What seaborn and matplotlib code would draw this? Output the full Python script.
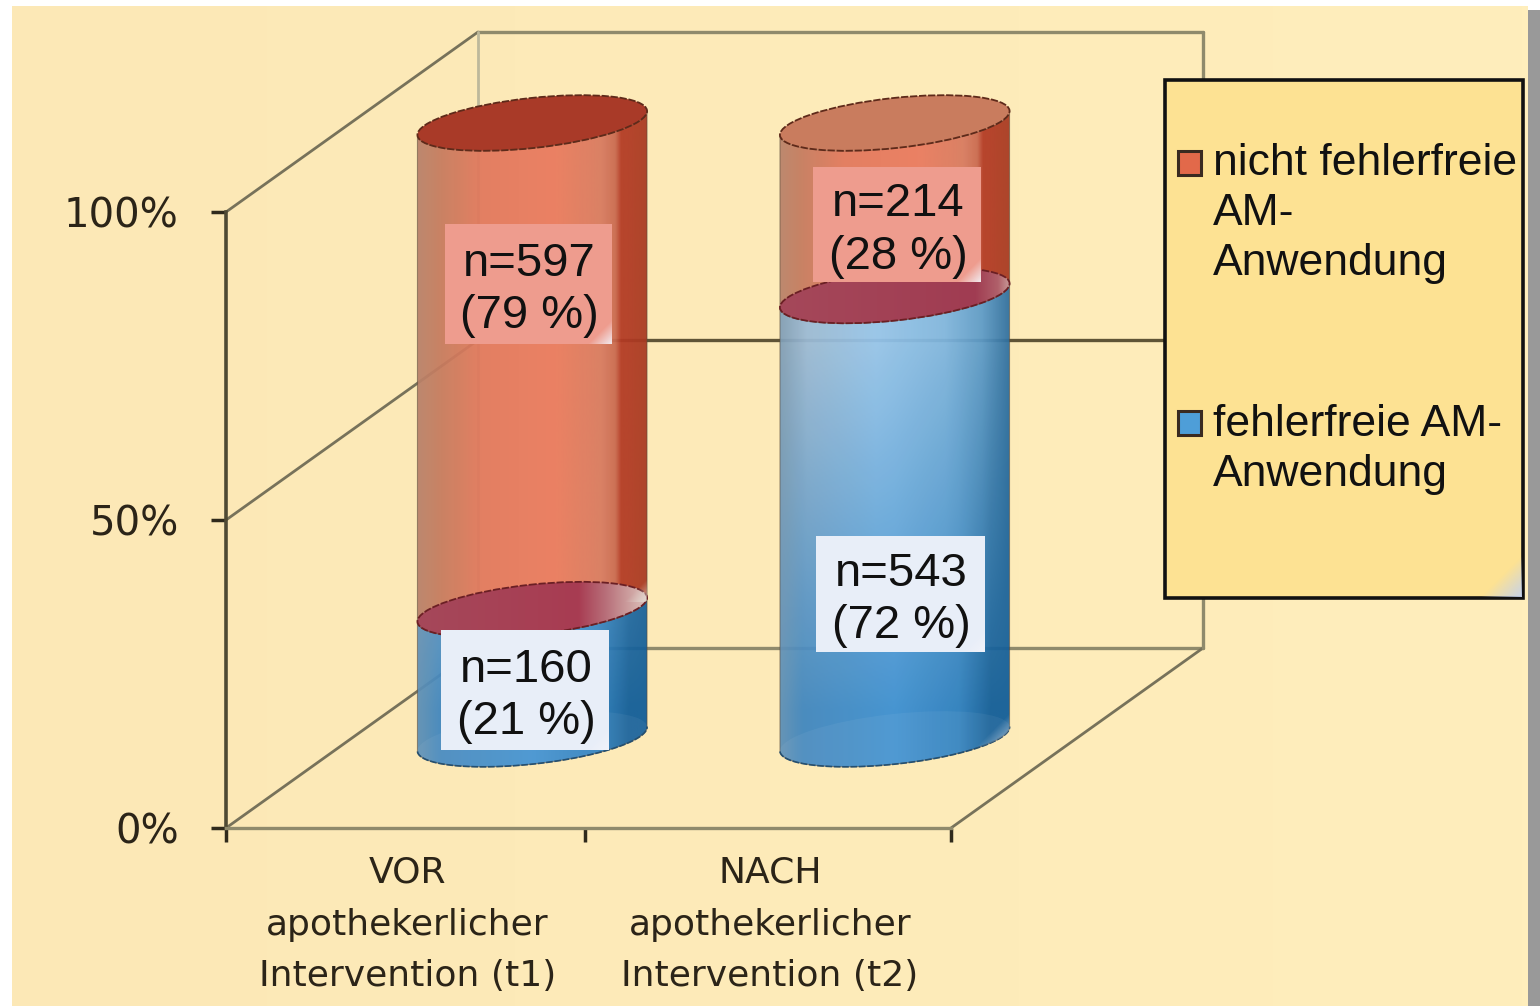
import numpy as np
import pandas as pd
import seaborn as sns
import matplotlib.pyplot as plt
from matplotlib.colors import LinearSegmentedColormap, to_rgb
from matplotlib.patches import Ellipse, PathPatch, Rectangle
from matplotlib.path import Path

# chart data
zeitpunkte = ["VOR\napothekerlicher\nIntervention (t1)", "NACH\napothekerlicher\nIntervention (t2)"]
n_fehlerfrei = [160, 543]
n_nicht_fehlerfrei = [597, 214]
pct_fehlerfrei = [21, 72]
pct_nicht_fehlerfrei = [79, 28]
y_ticks = [0, 50, 100]
legend_labels = ["nicht fehlerfreie\nAM-\nAnwendung", "fehlerfreie AM-\nAnwendung"]

W, H = 1540, 1006
# 3D look: pixel shift of the cylinders and of the back wall
CYL_SHIFT = (125, 89)
WALL_SHIFT = (252, 180)
PLOT_BOX = (226, 951, 828, 212)
ELL_B = 25
TILT = 6.2
FRAME_C = "#8f8a6c"
SANS = "Liberation Sans"

sns.set_theme(style="white")
plt.rcParams["font.family"] = ["DejaVu Sans"]

df = pd.DataFrame({
    "zeitpunkt": zeitpunkte,
    "fehlerfrei": pct_fehlerfrei,
    "nicht": pct_nicht_fehlerfrei,
})

fig = plt.figure(figsize=(W / 100, H / 100), dpi=100, facecolor="white")


def box_axes(dx=0, dy=0, zorder=1):
    l, r, b, t = PLOT_BOX
    a = fig.add_axes([(l + dx) / W, (H - b + dy) / H, (r - l) / W, (b - t) / H], zorder=zorder)
    a.patch.set_alpha(0)
    a.set_xlim(-0.5, 1.5)
    a.set_ylim(0, 100)
    return a


def pixel_axes(zorder):
    a = fig.add_axes([0, 0, 1, 1], zorder=zorder)
    a.set_xlim(0, W)
    a.set_ylim(H, 0)
    a.set_autoscale_on(False)
    a.axis("off")
    a.patch.set_alpha(0)
    return a


def grad(stops, n=256):
    return LinearSegmentedColormap.from_list("g", stops)(np.linspace(0, 1, n))[:, :3]


def ell_pts(cx, cy, a, t):
    th = np.radians(TILT)
    x, y = a * np.cos(t), ELL_B * np.sin(t)
    return np.c_[cx + x * np.cos(th) + y * np.sin(th), cy - x * np.sin(th) + y * np.cos(th)]


def corner_glow(ax, right, bottom, size, color, clip=None, strength=0.85, zorder=6):
    gx, gy = np.meshgrid(np.linspace(0, 1, 80), np.linspace(0, 1, 80))
    rgba = np.zeros((80, 80, 4))
    rgba[..., :3] = to_rgb(color)
    rgba[..., 3] = np.clip((gx + gy - 1.25) / 0.75, 0, 1) * strength
    im = ax.imshow(rgba, extent=(right - size, right, bottom, bottom - size), aspect="auto", zorder=zorder)
    if clip is not None:
        im.set_clip_path(clip)


# page background
bg = pixel_axes(0)
bg_grad = np.linspace(0, 1, 256)[None, :, None] * (np.array(to_rgb("#FFEEBC")) - np.array(to_rgb("#FCE8B6"))) + np.array(to_rgb("#FCE8B6"))
bg.imshow(bg_grad, extent=(12, 1528, H, 6), aspect="auto", zorder=0)
bg.add_patch(Rectangle((1528, 10), 12, H, fc="#999999", ec="none", zorder=1))

# wall and floor of the 3D frame
front = box_axes(zorder=1)
y_to_px = lambda v: 828 - v * 6.16
wdx, wdy = WALL_SHIFT
for tick in y_ticks:
    px, py = 226, y_to_px(tick)
    col = "#5f5436" if tick == 50 else FRAME_C
    bg.plot([px, px + wdx], [py, py - wdy], color="#77725a", lw=2, zorder=2)
    bg.plot([px + wdx, 951 + wdx], [py - wdy, py - wdy], color=col, lw=2.4, zorder=2)
bg.plot([951, 951 + wdx], [828, 828 - wdy], color="#77725a", lw=2, zorder=2)
bg.plot([226 + wdx] * 2, [212 - wdy, 828 - wdy], color="#bdb89b", lw=2, zorder=2)
bg.plot([951 + wdx] * 2, [212 - wdy, 828 - wdy], color=FRAME_C, lw=2.4, zorder=2)

front.set_yticks(y_ticks)
front.set_yticklabels([f"{t}%" for t in y_ticks], fontsize=29, color="#2b2418")
front.set_xticks([0.0, 1])
front.set_xticklabels(zeitpunkte, fontsize=26, color="#2b2418", linespacing=1.66)
front.set_xticks([-0.5, 0.49, 1.5], minor=True)
front.tick_params(axis="x", which="major", length=0, pad=20)
front.tick_params(axis="x", which="minor", length=10, width=2.5, color="#2f2a1c", bottom=True)
front.tick_params(axis="y", length=11, width=2.5, color="#2f2a1c", left=True, pad=23)
sns.despine(ax=front)
front.spines["left"].set(color="#4f4a34", linewidth=2.6)
front.spines["bottom"].set(color=FRAME_C, linewidth=2.4)

# cylinders: stacked seaborn bars on an axes shifted into the depth
cyl = box_axes(CYL_SHIFT[0], CYL_SHIFT[1], zorder=2)
sns.barplot(data=df, x="zeitpunkt", y="fehlerfrei", color="#3B8FD3", width=0.637, ax=cyl)
n_blue = len(cyl.patches)
sns.barplot(data=df, x="zeitpunkt", y="nicht", bottom=df["fehlerfrei"], color="#E87A5C", width=0.637, ax=cyl)
cyl.set_xlim(-0.5, 1.5)
cyl.set_ylim(0, 100)
cyl.axis("off")
fig.canvas.draw()

paint = pixel_axes(3)
red_img = grad([(0, "#B8826A"), (0.1, "#C67B5F"), (0.28, "#E2785C"), (0.6, "#EA7A5E"), (0.8, "#D87A60"),
                (0.86, "#C9694F"), (0.885, "#B43A24"), (1, "#A83A22")])[None, :, :]
blue_top = grad([(0, "#7F9DB5"), (0.12, "#9BBAD5"), (0.42, "#95C5EC"), (0.72, "#7FB6E0"), (0.88, "#5D9BC8"), (1, "#2F6F9F")])
blue_deep = grad([(0, "#5E8FB5"), (0.1, "#3F86BF"), (0.5, "#3B8FD3"), (0.78, "#2A7EC0"), (0.92, "#0F5C98"), (1, "#0F5C98")])
y_img = np.linspace(260, 770, 200)
mix = np.clip((y_img - 340) / 370, 0, 1)[:, None, None]
blue_img = blue_top[None, :, :] * (1 - mix) + blue_deep[None, :, :] * mix

top_caps = ["#A93A28", "#C97C5E"]
cap_imgs = [
    grad([(0, "#A5485A"), (0.7, "#A83C52"), (0.82, "#B8707A"), (1, "#DDC4BC")])[None, :, :],
    grad([(0, "#A5485A"), (0.85, "#A03C52"), (0.95, "#B0606A"), (1, "#C89A98")])[None, :, :],
]


def bar_pixels(bar):
    x0, y0 = cyl.transData.transform((bar.get_x(), bar.get_y()))
    x1, y1 = cyl.transData.transform((bar.get_x() + bar.get_width(), bar.get_y() + bar.get_height()))
    return x0, x1, H - y0, H - y1


def draw_segment(bar, img, extent_y):
    x0, x1, yb, yt = bar_pixels(bar)
    cx, a = (x0 + x1) / 2, (x1 - x0) / 2
    t_down = np.linspace(np.pi, 0, 90)
    pts = np.r_[ell_pts(cx, yb, a, t_down), ell_pts(cx, yt, a, t_down[::-1])]
    body = Path(np.r_[pts, pts[:1]], closed=True)
    patch = PathPatch(body, transform=paint.transData, fc="none", ec="#5a4a3a", lw=0.8, alpha=0.55, zorder=3)
    paint.add_patch(patch)
    im = paint.imshow(img, extent=(x0, x1, extent_y[1], extent_y[0]), aspect="auto", alpha=0.94, zorder=2)
    im.set_clip_path(patch)
    return cx, a, yb, yt, patch


for i, (blue_bar, red_bar) in enumerate(zip(cyl.patches[:n_blue], cyl.patches[n_blue:])):
    for b in (blue_bar, red_bar):
        b.set_alpha(0)
    cx, a, yb, yb_top, blue_patch = draw_segment(blue_bar, blue_img, (260, 770))
    cxr, ar, _, yr_top, red_patch = draw_segment(red_bar, red_img, (90, 700))
    # faint far edge of the base seen through the cylinder
    paint.add_patch(Ellipse((cx, yb), 2 * a, 2 * ELL_B, angle=-TILT, fc="white", ec="none", alpha=0.05, zorder=3))
    # top cap
    paint.add_patch(Ellipse((cxr, yr_top), 2 * ar, 2 * ELL_B, angle=-TILT, fc=top_caps[i], ec="#5e2a1a",
                            lw=1.3, ls=(0, (4, 1)), zorder=4))
    # cap between the two parts
    mid = Ellipse((cx, yb_top), 2 * a, 2 * ELL_B, angle=-TILT, fc="none", ec="#6b1f24", lw=1.3, ls=(0, (4, 1)), zorder=5)
    paint.add_patch(mid)
    im = paint.imshow(cap_imgs[i], extent=(cx - a, cx + a, yb_top + 30, yb_top - 30), aspect="auto", zorder=4)
    im.set_clip_path(mid)
    # bottom edge
    bot = ell_pts(cx, yb, a, np.linspace(np.pi, 0, 90))
    paint.plot(bot[:, 0], bot[:, 1], color="#244f70", lw=1.2, ls=(0, (4, 1)), zorder=5)
    if i == 1:
        corner_glow(paint, cx + a, yb + 10, 48, "#e8eaf0", clip=blue_patch, strength=0.75)
    else:
        corner_glow(paint, cx + a, yb_top - 8, 32, "#e8e4dc", clip=red_patch, strength=0.7)

# value labels in boxes
box_pos = {
    (0, 0): (441, 630, 168, 120), (1, 0): (816, 536, 169, 116),
    (0, 1): (445, 224, 167, 120), (1, 1): (813, 167, 168, 115),
}
for k, (vals, pcts, fc) in enumerate([(n_fehlerfrei, pct_fehlerfrei, "#E8EEF8"),
                                      (n_nicht_fehlerfrei, pct_nicht_fehlerfrei, "#EE9C8E")]):
    for i, (v, p) in enumerate(zip(vals, pcts)):
        bx, by, bw, bh = box_pos[(i, k)]
        paint.add_patch(Rectangle((bx, by), bw, bh, fc=fc, ec="none", zorder=7))
        corner_glow(paint, bx + bw, by + bh, 32, "#f2f4fb", strength=0.9, zorder=7)
        paint.text(bx + bw / 2 + 1, by + bh / 2 + 6, f"n={v}\n({p} %)", family=SANS, fontsize=34, ha="center",
                   va="center", color="#111111", linespacing=1.26, zorder=8)

# legend
paint.add_patch(Rectangle((1165, 80), 358, 518, fc="#FDE293", ec="#111111", lw=2.6, zorder=7))
corner_glow(paint, 1522, 597, 55, "#c4d2ee", strength=0.95, zorder=7)
for label, sw, top, col in zip(legend_labels, ["#E2694A", "#4E9ED8"], [143, 404], [151, 411]):
    paint.add_patch(Rectangle((1178, col), 23, 24, fc=sw, ec="#3a2a20", lw=2.2, zorder=8))
    paint.text(1213, top, label, family=SANS, fontsize=32, va="top", ha="left", color="#111111",
               linespacing=1.28, zorder=8)

fig.savefig("out.png", dpi=100)
